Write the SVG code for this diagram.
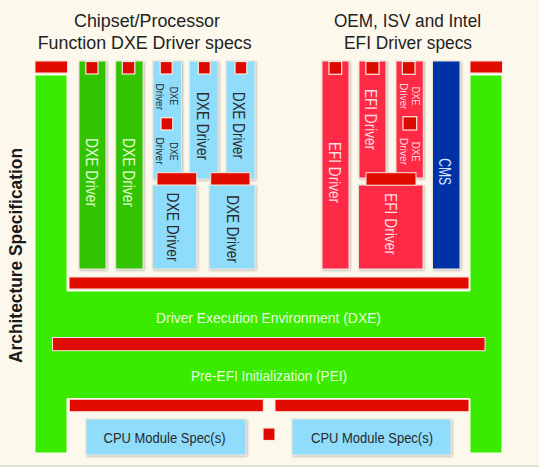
<svg xmlns="http://www.w3.org/2000/svg" width="539" height="467" viewBox="0 0 539 467">
<defs>
<filter id="sh" x="-20%" y="-20%" width="140%" height="140%">
<feDropShadow dx="1" dy="1" stdDeviation="0.8" flood-color="#000" flood-opacity="0.28"/>
</filter>
</defs>
<style>
.bg{fill:#fdf8ec}
.main{fill:#3aeb00;stroke:#f4fff0;stroke-width:1}
.dg{fill:#30c400;stroke:#e9e6dc;stroke-width:1}
.lb{fill:#8fdcfb;stroke:#e9e6dc;stroke-width:1}
.ef{fill:#ff2b45;stroke:#ece2dc;stroke-width:1}
.cm{fill:#0632a6;stroke:#e9e6dc;stroke-width:1}
.rb{fill:#e00c00;stroke:#f7e3dc;stroke-width:1}
.sq{fill:#dc0a00;stroke:#fbe8e0;stroke-width:1.2}
.t{font-family:"Liberation Sans",Arial,sans-serif}
.title{font-size:18.5px;fill:#222}
.wg{font-size:17px;fill:#e2ffd6}
.dk{font-size:17px;fill:#2a2a2a}
.wp{font-size:17px;fill:#ffdce0}
.wb{font-size:17px;fill:#d8e4ff}
.sm{font-size:10.5px}
.band{font-size:15px;fill:#e8ffdc}
.cpu{font-size:15.5px;fill:#2a2a2a}
</style>
<rect class="bg" x="0" y="0" width="539" height="467"/>
<line x1="0" y1="466" x2="539" y2="466" stroke="#c5cac6" stroke-width="1.2"/>

<g id="titles">
<text class="t title" x="147" y="26.5" text-anchor="middle" textLength="146" lengthAdjust="spacingAndGlyphs">Chipset/Processor</text>
<text class="t title" x="144.7" y="49" text-anchor="middle" textLength="214" lengthAdjust="spacingAndGlyphs">Function DXE Driver specs</text>
<text class="t title" x="407.5" y="26.5" text-anchor="middle" textLength="147" lengthAdjust="spacingAndGlyphs">OEM, ISV and Intel</text>
<text class="t title" x="408" y="49" text-anchor="middle" textLength="128" lengthAdjust="spacingAndGlyphs">EFI Driver specs</text>
</g>

<g id="arch-label">
<text class="t" transform="translate(21.5,255.5) rotate(-90)" text-anchor="middle" font-size="19" font-weight="bold" fill="#1a1a1a" textLength="215" lengthAdjust="spacingAndGlyphs">Architecture Specification</text>
</g>

<g id="arch-frame">
<path class="main" d="M35,75 H67 V291 H470 V75 H502 V453 H470 V398.5 H67 V453 H35 Z"/>
<rect class="rb" x="35" y="61" width="32.5" height="12"/>
<rect class="rb" x="470" y="61" width="32.5" height="12"/>
<text class="t band" x="268.5" y="323" text-anchor="middle" textLength="225" lengthAdjust="spacingAndGlyphs">Driver Execution Environment (DXE)</text>
<text class="t band" x="269" y="380.5" text-anchor="middle" textLength="156" lengthAdjust="spacingAndGlyphs">Pre-EFI Initialization (PEI)</text>
</g>

<g id="dxe-green-1">
<rect class="dg" x="79" y="61" width="27" height="208" filter="url(#sh)"/>
<rect class="sq" x="85.8" y="61.5" width="12.2" height="12.5"/>
<text class="t wg" transform="translate(92.5,172.5) rotate(90)" y="6.1" text-anchor="middle" textLength="69" lengthAdjust="spacingAndGlyphs">DXE Driver</text>
</g>
<g id="dxe-green-2">
<rect class="dg" x="115.7" y="61" width="27.3" height="208" filter="url(#sh)"/>
<rect class="sq" x="122.3" y="61.5" width="12.5" height="12.5"/>
<text class="t wg" transform="translate(129.3,172.5) rotate(90)" y="6.1" text-anchor="middle" textLength="69" lengthAdjust="spacingAndGlyphs">DXE Driver</text>
</g>

<g id="dxe-blue-1">
<rect class="lb" x="153" y="61" width="28.5" height="118" filter="url(#sh)"/>
<rect class="sq" x="160.2" y="61.5" width="12" height="12.5"/>
<rect class="sq" x="161" y="117.7" width="11.7" height="12.3"/>
<text class="t sm" fill="#2a2a2a" transform="translate(173.3,96) rotate(90)" y="3.7" text-anchor="middle" textLength="18.5" lengthAdjust="spacingAndGlyphs">DXE</text>
<text class="t sm" fill="#2a2a2a" transform="translate(159.7,96.7) rotate(90)" y="3.7" text-anchor="middle" textLength="26.5" lengthAdjust="spacingAndGlyphs">Driver</text>
<text class="t sm" fill="#2a2a2a" transform="translate(173.3,151.5) rotate(90)" y="3.7" text-anchor="middle" textLength="18.5" lengthAdjust="spacingAndGlyphs">DXE</text>
<text class="t sm" fill="#2a2a2a" transform="translate(159.7,151) rotate(90)" y="3.7" text-anchor="middle" textLength="27" lengthAdjust="spacingAndGlyphs">Driver</text>
</g>
<g id="dxe-blue-2">
<rect class="lb" x="189.3" y="61" width="28.7" height="118" filter="url(#sh)"/>
<rect class="sq" x="198.3" y="61.5" width="12" height="12.5"/>
<text class="t dk" transform="translate(203,126) rotate(90)" y="6.1" text-anchor="middle" textLength="68" lengthAdjust="spacingAndGlyphs">DXE Driver</text>
</g>
<g id="dxe-blue-3">
<rect class="lb" x="226" y="61" width="29" height="118" filter="url(#sh)"/>
<rect class="sq" x="235" y="61.5" width="11.8" height="12.5"/>
<text class="t dk" transform="translate(239.5,125.5) rotate(90)" y="6.1" text-anchor="middle" textLength="67" lengthAdjust="spacingAndGlyphs">DXE Driver</text>
</g>
<g id="dxe-blue-4">
<rect class="lb" x="152.5" y="185" width="44.2" height="84" filter="url(#sh)"/>
<rect class="rb" x="157" y="172.7" width="39.7" height="12.3"/>
<text class="t dk" transform="translate(173.5,227) rotate(90)" y="6.1" text-anchor="middle" textLength="69" lengthAdjust="spacingAndGlyphs">DXE Driver</text>
</g>
<g id="dxe-blue-5">
<rect class="lb" x="209" y="185" width="46" height="84" filter="url(#sh)"/>
<rect class="rb" x="210.7" y="172.7" width="39.3" height="12.3"/>
<text class="t dk" transform="translate(232.7,229) rotate(90)" y="6.1" text-anchor="middle" textLength="67.7" lengthAdjust="spacingAndGlyphs">DXE Driver</text>
</g>

<g id="efi-1">
<rect class="ef" x="322" y="61" width="27" height="208" filter="url(#sh)"/>
<rect class="sq" x="329" y="61.5" width="12.7" height="12.8"/>
<text class="t wp" transform="translate(335.3,172.5) rotate(90)" y="6.1" text-anchor="middle" textLength="61" lengthAdjust="spacingAndGlyphs">EFI Driver</text>
</g>
<g id="efi-2">
<rect class="ef" x="359" y="61" width="27" height="117" filter="url(#sh)"/>
<rect class="sq" x="365.8" y="61.5" width="13.2" height="12.8"/>
<text class="t wp" transform="translate(371.5,119.5) rotate(90)" y="6.1" text-anchor="middle" textLength="61" lengthAdjust="spacingAndGlyphs">EFI Driver</text>
</g>
<g id="efi-3">
<rect class="ef" x="396" y="61" width="27.3" height="117" filter="url(#sh)"/>
<rect class="sq" x="402.3" y="61.5" width="12.7" height="12.8"/>
<rect class="sq" x="403" y="116.7" width="13.7" height="13.3"/>
<text class="t sm" fill="#ffdce0" transform="translate(416,96) rotate(90)" y="3.7" text-anchor="middle" textLength="18.5" lengthAdjust="spacingAndGlyphs">DXE</text>
<text class="t sm" fill="#ffdce0" transform="translate(403.7,96.3) rotate(90)" y="3.7" text-anchor="middle" textLength="26" lengthAdjust="spacingAndGlyphs">Driver</text>
<text class="t sm" fill="#ffdce0" transform="translate(416,151.7) rotate(90)" y="3.7" text-anchor="middle" textLength="20" lengthAdjust="spacingAndGlyphs">DXE</text>
<text class="t sm" fill="#ffdce0" transform="translate(403.7,151.5) rotate(90)" y="3.7" text-anchor="middle" textLength="27" lengthAdjust="spacingAndGlyphs">Driver</text>
</g>
<g id="efi-4">
<rect class="ef" x="358.5" y="185" width="64.5" height="84" filter="url(#sh)"/>
<rect class="rb" x="366" y="172.7" width="50" height="12.5"/>
<text class="t wp" transform="translate(391.3,224) rotate(90)" y="6.1" text-anchor="middle" textLength="62" lengthAdjust="spacingAndGlyphs">EFI Driver</text>
</g>
<g id="cms">
<rect class="cm" x="432.5" y="61" width="27.5" height="208" filter="url(#sh)"/>
<text class="t wb" transform="translate(445,171.7) rotate(90)" y="6.1" text-anchor="middle" textLength="27" lengthAdjust="spacingAndGlyphs">CMS</text>
</g>

<g id="dxe-interface">
<rect class="rb" x="69" y="277" width="400" height="12"/>
</g>
<g id="pei-interface">
<rect class="rb" x="52.5" y="337.5" width="432.5" height="13.2"/>
</g>
<g id="cpu-interface">
<rect class="rb" x="69.3" y="399.3" width="194" height="12.4"/>
<rect class="rb" x="275" y="399.3" width="194" height="12.4"/>
<rect class="sq" x="263" y="428" width="12" height="12.5" stroke="none"/>
</g>

<g id="cpu-1">
<rect class="lb" x="86" y="419" width="160" height="36" filter="url(#sh)"/>
<text class="t cpu" x="164.5" y="443.3" text-anchor="middle" textLength="122" lengthAdjust="spacingAndGlyphs">CPU Module Spec(s)</text>
</g>
<g id="cpu-2">
<rect class="lb" x="292" y="419" width="159" height="36" filter="url(#sh)"/>
<text class="t cpu" x="372" y="443.3" text-anchor="middle" textLength="122" lengthAdjust="spacingAndGlyphs">CPU Module Spec(s)</text>
</g>

<g id="connectors"></g>
</svg>
